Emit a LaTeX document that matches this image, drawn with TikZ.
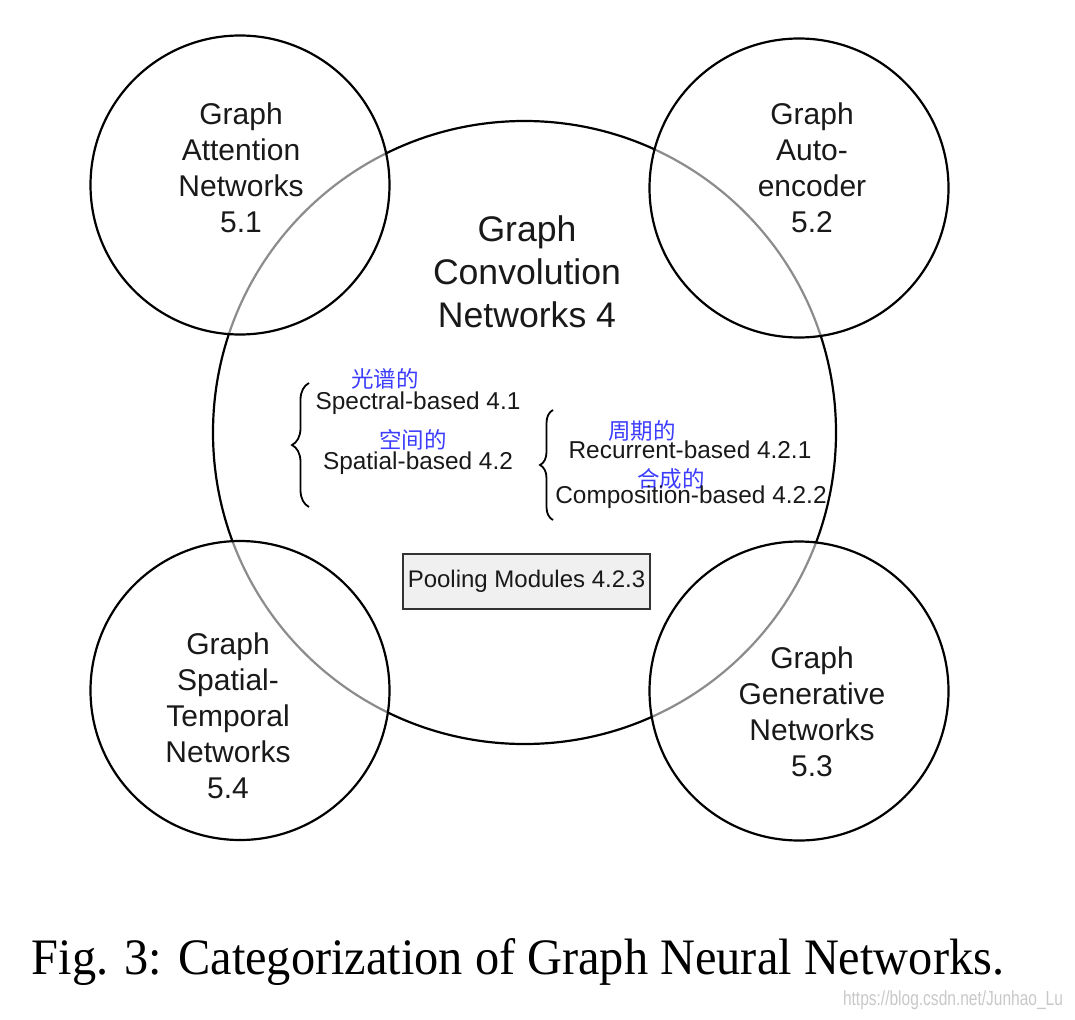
\documentclass[tikz,border=0pt]{standalone}
\usepackage{fontspec}
\setmainfont{Liberation Sans}
\newfontfamily\cjk{Noto Sans CJK SC}
\newfontfamily\capfont{Liberation Serif}
\usetikzlibrary{decorations.pathreplacing}
\definecolor{zhblue}{RGB}{60,60,255}
\definecolor{boxfill}{RGB}{240,240,240}
\definecolor{wmgray}{RGB}{200,200,200}
\definecolor{inkc}{RGB}{25,25,25}
\tikzset{
  ring/.style={circle, draw=black, line width=2.2pt, inner sep=0pt},
  smallring/.style={ring, minimum size=299pt, fill=white, fill opacity=0.55},
  bigtxt/.style={align=center, inner sep=0pt, text=inkc, font=\fontsize{35.6}{43}\selectfont},
  midtxt/.style={align=center, inner sep=0pt, text=inkc, font=\fontsize{30}{36}\selectfont},
  innertxt/.style={inner sep=0pt, text=inkc, font=\fontsize{24.4}{29}\selectfont},
  zhtxt/.style={inner sep=0pt, text=zhblue, font=\cjk\fontsize{22.5}{26}\selectfont},
  bracket/.style={decorate, line width=1.8pt, decoration={brace, amplitude=#1}},
  poolbox/.style={draw=black!80, fill=boxfill, line width=2pt, inner sep=0pt, text=inkc,
    minimum width=247pt, minimum height=55pt, font=\fontsize{24}{29}\selectfont}
}
\begin{document}
\begin{tikzpicture}[x=1pt,y=-1pt]
\useasboundingbox (0,0) rectangle (1075,1019);
% big circle
\node[ring, minimum size=623pt] (gcn) at (524.5,432.5) {};
% small circles
\node[smallring] (gat) at (240,185) {};
\node[smallring] (gae) at (799,188) {};
\node[smallring] (gst) at (240,690.5) {};
\node[smallring] (ggn) at (799,691) {};
% circle labels
\node[bigtxt] (gcnlbl) at (527,272) {Graph\\Convolution\\Networks 4};
\node[midtxt] (gatlbl) at (241,168) {Graph\\Attention\\Networks\\5.1};
\node[midtxt] (gaelbl) at (812,168) {Graph\\Auto-\\encoder\\5.2};
\node[midtxt] (gstlbl) at (228,716) {Graph\\Spatial-\\Temporal\\Networks\\5.4};
\node[midtxt] (ggnlbl) at (812,712) {Graph\\Generative\\Networks\\5.3};
% inner categories
\node[zhtxt] (zh1) at (385,379) {光谱的};
\node[innertxt] (spec) at (418,403) {Spectral-based 4.1};
\node[zhtxt] (zh2) at (413,440) {空间的};
\node[innertxt] (spat) at (418,463) {Spatial-based 4.2};
\node[zhtxt] (zh3) at (642,431) {周期的};
\node[innertxt] (recu) at (690,450) {Recurrent-based 4.2.1};
\node[zhtxt] (zh4) at (671,479) {合成的};
\node[innertxt] (comp) at (691,497) {Composition-based 4.2.2};
% braces
\coordinate (b1a) at (309,507);
\coordinate (b1b) at (309,383);
\coordinate (b2a) at (553,520);
\coordinate (b2b) at (553,410);
\draw[bracket=17pt] (b1a) -- (b1b);
\draw[bracket=13pt] (b2a) -- (b2b);
% pooling box
\node[poolbox] (pool) at (526.5,581.5) {Pooling Modules 4.2.3};
% caption
\node[inner sep=0pt] (cap) at (518,962) {\resizebox*{972pt}{47pt}{\capfont Fig. 3: Categorization of Graph Neural Networks.}};
\node[inner sep=0pt] (wm) at (953,1000) {\resizebox*{220pt}{19pt}{\color{wmgray}https://blog.csdn.net/Junhao\_Lu}};
\end{tikzpicture}
\end{document}
